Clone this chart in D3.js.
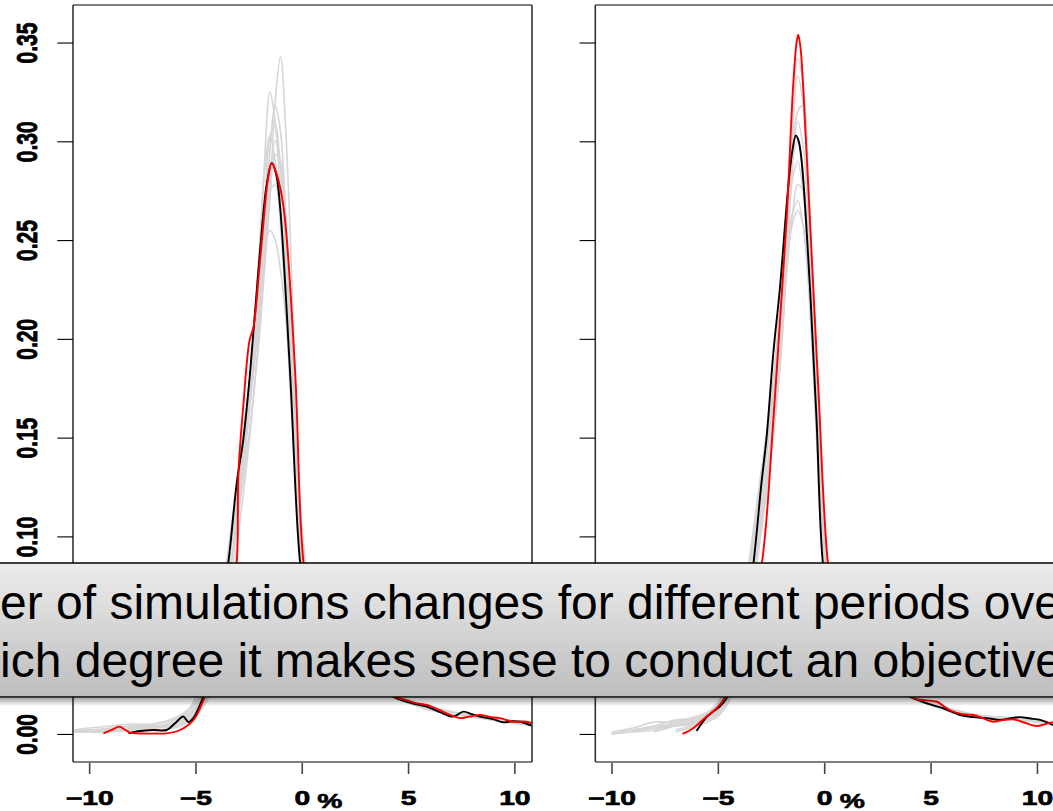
<!DOCTYPE html>
<html>
<head>
<meta charset="utf-8">
<script src="https://cdn.jsdelivr.net/npm/d3@7"></script>
<style>
	body { margin: 0; background: #fff; }
	svg { display: block; }
</style>
</head>
<body>
<svg id="chart" width="1053" height="811"></svg>
<script>
/* axis ticks */
const xTicks = [-10, -5, 0, 5, 10];
const yTicks = [0, 0.05, 0.10, 0.15, 0.20, 0.25, 0.30, 0.35];

/* common x grid for the simulated (grey) densities */
const gridX = [-10.7, -10, -9, -8, -7, -6, -5.5, -5, -4.5, -4, -3.5, -3, -2.5, -2, -1.75, -1.5, -1.25, -1, -0.75, -0.5, -0.25, 0, 0.5, 1, 2, 3, 4, 5, 6, 7, 8, 9, 10, 10.8];

/* left panel */
const leftBlack = [[-8.15,0.0003],[-7.6,0.0015],[-7.0,0.002],[-6.35,0.002],[-5.96,0.0054],[-5.57,0.0088],[-5.33,0.006],[-5.1,0.008],[-4.7,0.017],[-4.3,0.03],[-3.9,0.055],[-3.45,0.087],[-3.06,0.127],[-2.75,0.149],[-2.43,0.183],[-1.96,0.245],[-1.65,0.278],[-1.41,0.289],[-1.2,0.283],[-1.02,0.267],[-0.55,0.183],[-0.08,0.087],[0.3,0.06],[1,0.045],[2,0.034],[3,0.026],[4,0.021],[4.47,0.018],[5.2,0.0155],[5.88,0.0138],[6.5,0.011],[7.13,0.0088],[7.6,0.0113],[8.0,0.010],[8.38,0.0088],[9.0,0.0075],[9.48,0.0059],[9.9,0.0064],[10.26,0.0062],[10.81,0.0042]];
const leftRed = [[-9.33,0.0003],[-8.95,0.002],[-8.58,0.0037],[-8.3,0.002],[-8.07,0.0007],[-7.5,0.0002],[-6.9,0.0002],[-6.35,0.0003],[-5.72,0.002],[-5.1,0.007],[-4.63,0.017],[-4.2,0.032],[-3.7,0.055],[-3.3,0.072],[-3.06,0.087],[-2.98,0.132],[-2.75,0.166],[-2.46,0.199],[-2.27,0.206],[-2.0,0.235],[-1.8,0.259],[-1.6,0.280],[-1.41,0.289],[-1.2,0.284],[-0.86,0.267],[-0.31,0.183],[0.08,0.087],[0.6,0.055],[1.2,0.043],[2,0.034],[3,0.026],[4,0.02],[4.94,0.017],[5.4,0.0155],[5.88,0.0147],[6.5,0.012],[7.0,0.0095],[7.44,0.008],[7.9,0.0088],[8.38,0.0096],[8.9,0.0085],[9.32,0.008],[9.95,0.0062],[10.3,0.0063],[10.58,0.0062],[10.81,0.0054]];
const leftGray = [
	[0.002, 0.002, 0.003, 0.004, 0.004, 0.006, 0.009, 0.014, 0.024, 0.045, 0.075, 0.11, 0.15, 0.2, 0.235, 0.27, 0.32, 0.343, 0.305, 0.24, 0.16, 0.09, 0.058, 0.045, 0.034, 0.027, 0.021, 0.016, 0.013, 0.010, 0.0095, 0.007, 0.006, 0.005],
	[null, 0.001, 0.002, 0.004, 0.003, 0.005, 0.008, 0.013, 0.022, 0.045, 0.08, 0.125, 0.17, 0.235, 0.29, 0.325, 0.31, 0.27, 0.225, 0.175, 0.125, 0.085, 0.057, 0.045, 0.035, 0.026, 0.02, 0.016, 0.013, 0.011, 0.0085, 0.0075, 0.006, 0.005],
	[null, null, 0.001, 0.003, 0.004, 0.004, 0.007, 0.012, 0.02, 0.04, 0.07, 0.115, 0.165, 0.225, 0.265, 0.302, 0.308, 0.285, 0.24, 0.19, 0.14, 0.095, 0.06, 0.046, 0.034, 0.026, 0.021, 0.017, 0.013, 0.01, 0.009, 0.0075, 0.0055, 0.0045],
	[0.001, 0.002, 0.002, 0.003, 0.005, 0.007, 0.01, 0.016, 0.028, 0.05, 0.085, 0.125, 0.165, 0.215, 0.245, 0.28, 0.3, 0.29, 0.255, 0.2, 0.145, 0.1, 0.062, 0.046, 0.033, 0.025, 0.02, 0.016, 0.012, 0.0105, 0.009, 0.007, 0.0055, 0.005],
	[null, null, null, 0.001, 0.003, 0.006, 0.01, 0.018, 0.032, 0.055, 0.09, 0.13, 0.175, 0.225, 0.245, 0.255, 0.25, 0.235, 0.21, 0.175, 0.135, 0.1, 0.065, 0.048, 0.036, 0.027, 0.021, 0.017, 0.014, 0.011, 0.009, 0.008, 0.006, 0.005],
	[0.002, 0.001, 0.001, 0.002, 0.003, 0.005, 0.008, 0.012, 0.02, 0.038, 0.068, 0.11, 0.16, 0.22, 0.26, 0.29, 0.288, 0.265, 0.23, 0.18, 0.13, 0.09, 0.058, 0.044, 0.033, 0.025, 0.02, 0.016, 0.013, 0.011, 0.0095, 0.008, 0.0065, 0.006],
	[null, 0.001, 0.002, 0.002, 0.002, 0.003, 0.005, 0.009, 0.016, 0.03, 0.06, 0.1, 0.145, 0.205, 0.25, 0.295, 0.318, 0.305, 0.26, 0.2, 0.14, 0.092, 0.058, 0.044, 0.034, 0.026, 0.02, 0.0155, 0.0125, 0.0105, 0.009, 0.0075, 0.006, 0.0048],
	[0.002, 0.003, 0.004, 0.005, 0.005, 0.008, 0.011, 0.015, 0.025, 0.048, 0.082, 0.12, 0.165, 0.22, 0.25, 0.275, 0.278, 0.262, 0.23, 0.185, 0.14, 0.098, 0.063, 0.047, 0.035, 0.026, 0.021, 0.017, 0.0135, 0.011, 0.0095, 0.0078, 0.0065, 0.0055],
	[null, null, 0.001, 0.003, 0.004, 0.004, 0.006, 0.01, 0.018, 0.036, 0.068, 0.112, 0.17, 0.245, 0.285, 0.303, 0.29, 0.258, 0.215, 0.165, 0.12, 0.085, 0.056, 0.044, 0.034, 0.027, 0.021, 0.017, 0.014, 0.0115, 0.0095, 0.008, 0.0065, 0.0055],
	[0.001, 0.001, 0.002, 0.003, 0.003, 0.004, 0.006, 0.011, 0.02, 0.04, 0.072, 0.115, 0.16, 0.21, 0.24, 0.272, 0.293, 0.29, 0.262, 0.21, 0.155, 0.105, 0.064, 0.046, 0.034, 0.026, 0.02, 0.0165, 0.0125, 0.01, 0.0088, 0.007, 0.0055, 0.0045]
];

/* right panel */
const rightBlack = [[-6.0,0.0015],[-5.53,0.0085],[-5.22,0.0113],[-4.91,0.0138],[-4.59,0.018],[-4.2,0.03],[-3.8,0.05],[-3.34,0.085],[-2.95,0.127],[-2.71,0.150],[-2.39,0.193],[-2.08,0.226],[-1.69,0.277],[-1.5,0.295],[-1.33,0.303],[-1.2,0.300],[-1.06,0.29],[-0.67,0.226],[-0.36,0.159],[-0.05,0.085],[0.4,0.055],[1,0.042],[2,0.032],[3,0.025],[4,0.019],[4.82,0.0155],[5.6,0.013],[6.39,0.0096],[7.0,0.0085],[7.64,0.008],[8.27,0.0071],[8.7,0.0078],[9.21,0.0085],[9.7,0.0078],[10.15,0.0071],[10.76,0.0045]];
const rightRed = [[-6.66,0.0],[-6.16,0.0029],[-5.53,0.0088],[-5.06,0.013],[-4.75,0.017],[-4.2,0.03],[-3.6,0.055],[-2.95,0.085],[-2.39,0.159],[-2.08,0.209],[-1.77,0.26],[-1.46,0.328],[-1.3,0.350],[-1.22,0.354],[-1.12,0.348],[-0.99,0.328],[-0.67,0.26],[-0.28,0.176],[0.19,0.085],[0.6,0.06],[1.2,0.045],[2,0.034],[3,0.026],[4.35,0.0175],[4.8,0.017],[5.29,0.0163],[5.92,0.012],[6.5,0.010],[7.01,0.0096],[7.5,0.0078],[7.95,0.0062],[8.4,0.007],[8.89,0.0074],[9.4,0.0058],[9.99,0.004],[10.4,0.005],[10.76,0.006]];
const rightGray = [
	[null, 0, 0.002, 0.003, 0.005, 0.006, 0.008, 0.012, 0.022, 0.04, 0.07, 0.11, 0.15, 0.205, 0.25, 0.305, 0.342, 0.33, 0.28, 0.215, 0.15, 0.095, 0.058, 0.043, 0.032, 0.025, 0.019, 0.015, 0.011, 0.009, 0.0075, 0.0075, 0.006, 0.005],
	[null, null, 0.001, 0.004, 0.007, 0.008, 0.009, 0.013, 0.025, 0.045, 0.078, 0.118, 0.16, 0.215, 0.255, 0.29, 0.31, 0.298, 0.26, 0.2, 0.14, 0.09, 0.056, 0.042, 0.032, 0.024, 0.019, 0.0155, 0.012, 0.0095, 0.008, 0.0078, 0.0065, 0.0055],
	[null, null, null, 0.001, 0.004, 0.007, 0.01, 0.015, 0.028, 0.052, 0.085, 0.125, 0.165, 0.22, 0.255, 0.28, 0.29, 0.275, 0.24, 0.19, 0.135, 0.09, 0.057, 0.043, 0.033, 0.025, 0.019, 0.015, 0.0115, 0.0095, 0.0085, 0.008, 0.0068, 0.005],
	[null, 0.001, 0.003, 0.006, 0.006, 0.009, 0.011, 0.016, 0.03, 0.055, 0.09, 0.13, 0.17, 0.22, 0.245, 0.263, 0.27, 0.258, 0.228, 0.185, 0.135, 0.092, 0.058, 0.044, 0.033, 0.025, 0.02, 0.016, 0.0125, 0.01, 0.0085, 0.0075, 0.006, 0.005],
	[null, null, null, null, 0.001, 0.004, 0.006, 0.009, 0.016, 0.032, 0.06, 0.1, 0.145, 0.2, 0.24, 0.285, 0.315, 0.318, 0.28, 0.22, 0.155, 0.1, 0.06, 0.044, 0.033, 0.025, 0.019, 0.0145, 0.011, 0.009, 0.0078, 0.0075, 0.0062, 0.0052],
	[null, 0, 0.001, 0.002, 0.006, 0.007, 0.008, 0.011, 0.02, 0.04, 0.072, 0.115, 0.16, 0.22, 0.26, 0.29, 0.3, 0.285, 0.245, 0.19, 0.13, 0.085, 0.055, 0.042, 0.032, 0.025, 0.02, 0.016, 0.0125, 0.0095, 0.008, 0.0082, 0.007, 0.0055],
	[null, null, null, 0.002, 0.004, 0.005, 0.007, 0.01, 0.018, 0.035, 0.065, 0.105, 0.15, 0.205, 0.235, 0.262, 0.278, 0.275, 0.25, 0.205, 0.15, 0.1, 0.062, 0.045, 0.034, 0.026, 0.02, 0.016, 0.012, 0.0098, 0.0082, 0.0072, 0.006, 0.0048],
	[null, null, null, null, 0.002, 0.005, 0.008, 0.012, 0.02, 0.036, 0.064, 0.1, 0.14, 0.195, 0.245, 0.3, 0.333, 0.32, 0.27, 0.205, 0.14, 0.09, 0.056, 0.042, 0.032, 0.024, 0.019, 0.015, 0.0115, 0.0095, 0.0082, 0.0078, 0.0062, 0.0052],
	[null, 0, 0.002, 0.004, 0.005, 0.008, 0.01, 0.014, 0.026, 0.05, 0.085, 0.125, 0.168, 0.215, 0.24, 0.258, 0.265, 0.258, 0.235, 0.195, 0.145, 0.1, 0.063, 0.046, 0.034, 0.025, 0.02, 0.016, 0.0125, 0.01, 0.0088, 0.008, 0.0065, 0.0055],
	[null, null, 0.001, 0.003, 0.004, 0.006, 0.009, 0.013, 0.022, 0.043, 0.075, 0.118, 0.165, 0.23, 0.27, 0.298, 0.302, 0.28, 0.235, 0.18, 0.125, 0.085, 0.055, 0.042, 0.032, 0.025, 0.019, 0.015, 0.012, 0.0095, 0.008, 0.0075, 0.0065, 0.0055]
];

/* slide text lying over the chart */
const bannerLines = [
	"er of simulations changes for different periods over",
	"ich degree it makes sense to conduct an objective"
];

const svg = d3.select("#chart");
const plotTop = 5, plotBottom = 762;
const labelFont = "'Liberation Sans', Arial, sans-serif";

const y = d3.scaleLinear().domain([-0.0142, 0.369]).range([plotBottom, plotTop]);

const panels = [
	{ name: "left", left: 73, right: 532, black: leftBlack, red: leftRed, gray: leftGray, labels: true },
	{ name: "right", left: 595.3, right: 1054.6, black: rightBlack, red: rightRed, gray: rightGray, labels: false }
];

const defs = svg.append("defs");

panels.forEach((p) => {
	const x = d3.scaleLinear().domain([-10.76, 10.83]).range([p.left, p.right]);

	defs.append("clipPath")
		.attr("id", "clip-" + p.name)
		.append("rect")
			.attr("x", p.left)
			.attr("y", plotTop)
			.attr("width", p.right - p.left)
			.attr("height", plotBottom - plotTop);

	const g = svg.append("g").attr("class", "panel " + p.name);

	const line = d3.line()
		.defined((d) => d[1] != null)
		.x((d) => x(d[0]))
		.y((d) => y(d[1]))
		.curve(d3.curveCatmullRom.alpha(0.5));

	const curves = g.append("g").attr("clip-path", `url(#clip-${p.name})`);

	/* simulated densities in grey, then the two highlighted ones */
	curves.selectAll(".sim")
		.data(p.gray)
		.enter()
		.append("path")
			.attr("class", "sim")
			.attr("d", (s) => line(gridX.map((gx, i) => [gx, s[i]])))
			.attr("fill", "none")
			.attr("stroke", "#d6d6d6")
			.attr("stroke-width", 1.6);

	curves.append("path")
		.attr("d", line(p.black))
		.attr("fill", "none")
		.attr("stroke", "#000")
		.attr("stroke-width", 1.9);

	curves.append("path")
		.attr("d", line(p.red))
		.attr("fill", "none")
		.attr("stroke", "#ff0000")
		.attr("stroke-width", 1.9);

	/* box */
	const frame = g.append("g").attr("class", "frame");
	frame.append("line").attr("x1", p.left).attr("x2", p.right).attr("y1", plotTop).attr("y2", plotTop)
		.attr("stroke", "#000").attr("stroke-width", 1.2);
	frame.append("line").attr("x1", p.left).attr("x2", p.right).attr("y1", plotBottom).attr("y2", plotBottom)
		.attr("stroke", "#000").attr("stroke-width", 1.2);
	frame.append("line").attr("x1", p.left).attr("x2", p.left).attr("y1", plotTop).attr("y2", plotBottom)
		.attr("stroke", "#333").attr("stroke-width", 1.6);
	frame.append("line").attr("x1", p.right).attr("x2", p.right).attr("y1", plotTop).attr("y2", plotBottom)
		.attr("stroke", "#333").attr("stroke-width", 1.6);

	/* x axis */
	const xAxis = g.append("g")
		.attr("transform", `translate(0,${plotBottom + 1})`)
		.call(d3.axisBottom(x).tickValues(xTicks).tickSize(11).tickFormat(d3.format("d")));
	xAxis.select(".domain").remove();
	xAxis.selectAll(".tick line").attr("stroke", "#444").attr("stroke-width", 1.6);
	xAxis.selectAll(".tick text")
		.attr("y", null)
		.attr("dy", null)
		.attr("transform", "translate(0,42) scale(1.45,1)")
		.attr("fill", "#000")
		.attr("stroke", "#000")
		.attr("stroke-width", 0.6)
		.attr("font-family", labelFont)
		.attr("font-weight", "bold")
		.attr("font-size", 19.5);

	g.append("text")
		.attr("transform", `translate(${x(0) + 28},808) scale(1.45,1)`)
		.attr("text-anchor", "middle")
		.attr("fill", "#000")
		.attr("stroke", "#000")
		.attr("stroke-width", 0.6)
		.attr("font-family", labelFont)
		.attr("font-weight", "bold")
		.attr("font-size", 19.5)
		.text("%");

	/* y axis, labels only on the left panel */
	const yAxis = g.append("g")
		.attr("transform", `translate(${p.left},0)`)
		.call(d3.axisLeft(y).tickValues(yTicks).tickSize(15.7)
			.tickFormat(p.labels ? d3.format(".2f") : () => ""));
	yAxis.select(".domain").remove();
	yAxis.selectAll(".tick line").attr("stroke", "#000").attr("stroke-width", 1.1);
	yAxis.selectAll(".tick text")
		.attr("x", null)
		.attr("dy", null)
		.attr("text-anchor", "middle")
		.attr("transform", "translate(-36,0) scale(1.4,1) rotate(-90)")
		.attr("fill", "#000")
		.attr("stroke", "#000")
		.attr("stroke-width", 0.6)
		.attr("font-family", labelFont)
		.attr("font-weight", "bold")
		.attr("font-size", 21);
});

/* grey banner on top */
const grad = defs.append("linearGradient")
	.attr("id", "bannerFill")
	.attr("x1", 0).attr("y1", 0).attr("x2", 0).attr("y2", 1);
grad.append("stop").attr("offset", "0%").attr("stop-color", "#ececec");
grad.append("stop").attr("offset", "100%").attr("stop-color", "#bdbdbd");

const shade = defs.append("linearGradient")
	.attr("id", "bannerShadow")
	.attr("x1", 0).attr("y1", 0).attr("x2", 0).attr("y2", 1);
shade.append("stop").attr("offset", "0%").attr("stop-color", "#000").attr("stop-opacity", 0.35);
shade.append("stop").attr("offset", "100%").attr("stop-color", "#000").attr("stop-opacity", 0);

const banner = svg.append("g").attr("class", "banner");
banner.append("rect")
	.attr("x", -5).attr("y", 698)
	.attr("width", 1063).attr("height", 8)
	.attr("fill", "url(#bannerShadow)");
banner.append("rect")
	.attr("x", -5).attr("y", 563)
	.attr("width", 1063).attr("height", 134)
	.attr("fill", "url(#bannerFill)")
	.attr("stroke", "#000")
	.attr("stroke-width", 1.5);
banner.selectAll("text")
	.data(bannerLines)
	.enter()
	.append("text")
		.attr("x", 0)
		.attr("y", (d, i) => 619 + i * 58)
		.attr("font-family", labelFont)
		.attr("font-size", 48)
		.attr("fill", "#000")
		.text((d) => d);
</script>
</body>
</html>
